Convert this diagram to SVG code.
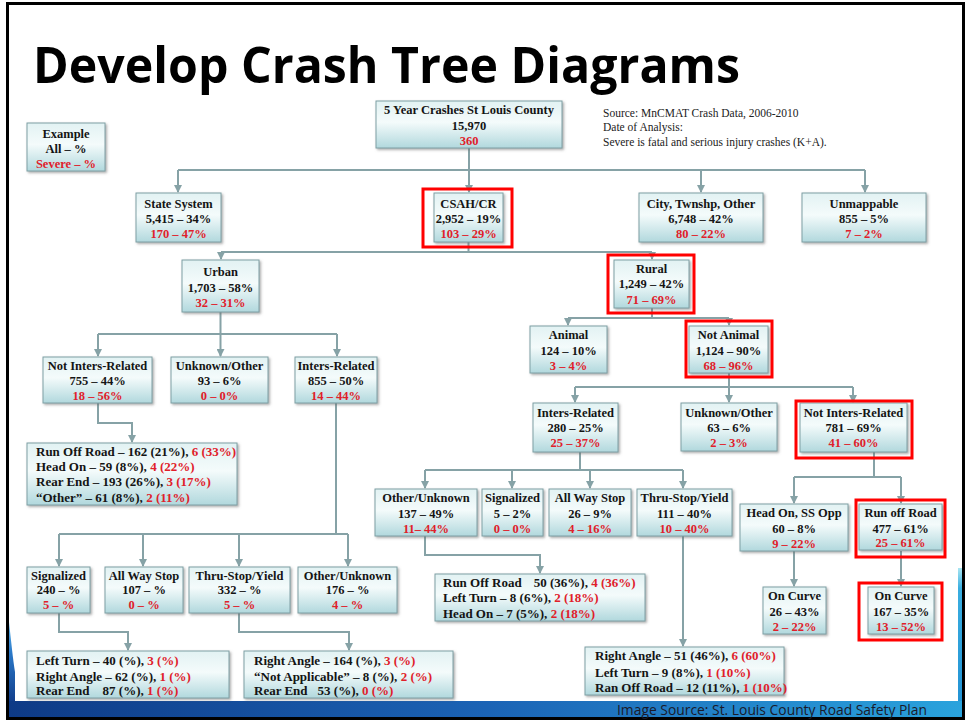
<svg xmlns="http://www.w3.org/2000/svg" width="967" height="723" viewBox="0 0 967 723">
<defs>
<linearGradient id="g" x1="0" y1="0" x2="0" y2="1">
<stop offset="0" stop-color="#e2f2f3"/>
<stop offset="0.45" stop-color="#f4fbfb"/>
<stop offset="1" stop-color="#b1d8dd"/>
</linearGradient>
<linearGradient id="band" x1="0" y1="0" x2="1" y2="0">
<stop offset="0" stop-color="#0e3a86"/>
<stop offset="0.5" stop-color="#1b63b5"/>
<stop offset="1" stop-color="#2aa3dd"/>
</linearGradient>
<linearGradient id="rs" x1="0" y1="0" x2="0" y2="1">
<stop offset="0" stop-color="#a9e6f2"/>
<stop offset="0.15" stop-color="#3aaee0"/>
<stop offset="1" stop-color="#2393d4"/>
</linearGradient>
<linearGradient id="ls" x1="0" y1="0" x2="0" y2="1">
<stop offset="0" stop-color="#5db4ea"/>
<stop offset="0.4" stop-color="#2a78c8"/>
<stop offset="1" stop-color="#123f8c"/>
</linearGradient>
<filter id="sh" x="-10%" y="-10%" width="130%" height="140%">
<feDropShadow dx="1.5" dy="1.5" stdDeviation="1" flood-color="#6b6b6b" flood-opacity="0.55"/>
</filter>
<marker id="ar" markerWidth="8" markerHeight="8" refX="7" refY="4" orient="auto" markerUnits="userSpaceOnUse">
<path d="M0,0 L8,4 L0,8 z" fill="#86a2a6"/>
</marker>
<style>
.box{fill:url(#g);stroke:#7f9fa4;stroke-width:1;filter:url(#sh);}
.t{font-family:"Liberation Serif","Times New Roman",serif;font-weight:bold;font-size:12.5px;fill:#141414;text-anchor:middle;}
.l{font-size:13px;text-anchor:start;}
.r{fill:#e0202a;}
.c{fill:none;stroke:#86a2a6;stroke-width:2;}
.a{marker-end:url(#ar);}
.hl{fill:none;stroke:#ff0000;stroke-width:3;}
.src{font-family:"Liberation Serif","Times New Roman",serif;font-size:11.5px;fill:#222;}
</style>
</defs>

<rect x="0" y="0" width="967" height="723" fill="#ffffff"/>
<g id="frame">
<path d="M9,622 C11,640 13,660 15,672 L15,701 L9,701 Z" fill="url(#ls)"/>
<rect x="958" y="568" width="6" height="134" fill="url(#rs)"/>
<rect x="8" y="701" width="956" height="17" fill="url(#band)"/>
<rect x="7.5" y="3.5" width="956" height="715" fill="none" stroke="#000" stroke-width="3"/>
<text x="617" y="715" font-family="'Open Sans','Noto Sans',sans-serif" font-size="14" fill="#1a1a2a" textLength="310" lengthAdjust="spacingAndGlyphs">Image Source: St. Louis County Road Safety Plan</text>
</g>

<text id="title" x="33" y="83" font-family="'Open Sans','Noto Sans',sans-serif" font-weight="bold" font-size="51" fill="#000" textLength="707" lengthAdjust="spacingAndGlyphs">Develop Crash Tree Diagrams</text>

<g id="source">
<text class="src" x="603" y="117">Source: MnCMAT Crash Data, 2006-2010</text>
<text class="src" x="603" y="131">Date of Analysis:</text>
<text class="src" x="603" y="146">Severe is fatal and serious injury crashes (K+A).</text>
</g>

<g id="connectors">
<path class="c" d="M178,170 H865"/>
<path class="c a" d="M469,148 V192"/>
<path class="c a" d="M178,170 V192"/>
<path class="c a" d="M701,170 V192"/>
<path class="c a" d="M865,170 V192"/>
<path class="c" d="M468.5,242 V252 M221,252 H652"/>
<path class="c a" d="M221,252 V259"/>
<path class="c a" d="M652,252 V259"/>
<path class="c" d="M220.5,312 V334 M98,334 H337"/>
<path class="c a" d="M98,334 V356"/>
<path class="c a" d="M220.5,334 V356"/>
<path class="c a" d="M337,334 V356"/>
<path class="c" d="M652,308 V318 M568,318 H729"/>
<path class="c a" d="M568,318 V325"/>
<path class="c a" d="M729,318 V325"/>
<path class="c" d="M729,373 V387 M575,387 H853"/>
<path class="c a" d="M575,387 V402"/>
<path class="c a" d="M729,387 V402"/>
<path class="c a" d="M853,387 V402"/>
<path class="c a" d="M98,403 V423 H132 V442"/>
<path class="c" d="M336,403 V534 M59,534 H348"/>
<path class="c a" d="M59,534 V566"/>
<path class="c a" d="M143,534 V566"/>
<path class="c a" d="M239,534 V566"/>
<path class="c a" d="M348,534 V566"/>
<path class="c a" d="M59,613 V632 H128 V650"/>
<path class="c a" d="M239,613 V632 H349 V650"/>
<path class="c" d="M580,452 V470 M425,470 H683"/>
<path class="c a" d="M425,470 V488"/>
<path class="c a" d="M512,470 V488"/>
<path class="c a" d="M590,470 V488"/>
<path class="c a" d="M683,470 V488"/>
<path class="c a" d="M425,536 V555 H540 V573"/>
<path class="c a" d="M683,536 V646"/>
<path class="c" d="M874,452 V477 M794,477 H901"/>
<path class="c a" d="M794,477 V503"/>
<path class="c a" d="M901,477 V503"/>
<path class="c a" d="M794,551 V586"/>
<path class="c a" d="M901,551 V586"/>
</g>

<g id="example"><rect class="box" x="27" y="123" width="78" height="48"/>
<text class="t" x="66" y="137.5">Example</text><text class="t" x="66" y="152.5">All – %</text><text class="t r" x="66" y="167.5">Severe – %</text></g>

<g id="root"><rect class="box" x="376" y="101" width="186" height="47"/>
<text class="t" x="469" y="113.5">5 Year Crashes St Louis County</text><text class="t" x="469" y="129.5">15,970</text><text class="t r" x="469" y="144.5">360</text></g>

<g id="state"><rect class="box" x="136" y="193" width="85" height="49"/>
<text class="t" x="178.5" y="207.5">State System</text><text class="t" x="178.5" y="222.5">5,415 – 34%</text><text class="t r" x="178.5" y="237.5">170 – 47%</text></g>

<g id="csah"><rect class="box" x="434" y="193" width="69" height="49"/>
<text class="t" x="468.5" y="207.5">CSAH/CR</text><text class="t" x="468.5" y="222.5">2,952 – 19%</text><text class="t r" x="468.5" y="237.5">103 – 29%</text></g>

<g id="city"><rect class="box" x="639" y="193" width="124" height="49"/>
<text class="t" x="701" y="207.5">City, Twnshp, Other</text><text class="t" x="701" y="222.5">6,748 – 42%</text><text class="t r" x="701" y="237.5">80 – 22%</text></g>

<g id="unmappable"><rect class="box" x="802" y="193" width="124" height="49"/>
<text class="t" x="864" y="207.5">Unmappable</text><text class="t" x="864" y="222.5">855 – 5%</text><text class="t r" x="864" y="237.5">7 – 2%</text></g>

<g id="urban"><rect class="box" x="182" y="260" width="77" height="52"/>
<text class="t" x="220.5" y="275.5">Urban</text><text class="t" x="220.5" y="291.5">1,703 – 58%</text><text class="t r" x="220.5" y="306.5">32 – 31%</text></g>

<g id="rural"><rect class="box" x="614" y="260" width="75" height="48"/>
<text class="t" x="651.5" y="272.5">Rural</text><text class="t" x="651.5" y="287.5">1,249 – 42%</text><text class="t r" x="651.5" y="304">71 – 69%</text></g>

<g id="urban-not-inters"><rect class="box" x="43" y="357" width="109" height="46"/>
<text class="t" x="97.5" y="369.5">Not Inters-Related</text><text class="t" x="97.5" y="384.5">755 – 44%</text><text class="t r" x="97.5" y="399.5">18 – 56%</text></g>

<g id="urban-unknown"><rect class="box" x="171" y="357" width="97" height="46"/>
<text class="t" x="219.5" y="369.5">Unknown/Other</text><text class="t" x="219.5" y="384.5">93 – 6%</text><text class="t r" x="219.5" y="399.5">0 – 0%</text></g>

<g id="urban-inters"><rect class="box" x="295" y="357" width="82" height="46"/>
<text class="t" x="336" y="369.5">Inters-Related</text><text class="t" x="336" y="384.5">855 – 50%</text><text class="t r" x="336" y="399.5">14 – 44%</text></g>

<g id="animal"><rect class="box" x="530" y="326" width="77" height="47"/>
<text class="t" x="568.5" y="338.5">Animal</text><text class="t" x="568.5" y="354.5">124 – 10%</text><text class="t r" x="568.5" y="369.5">3 – 4%</text></g>

<g id="not-animal"><rect class="box" x="689" y="326" width="79" height="47"/>
<text class="t" x="728.5" y="338.5">Not Animal</text><text class="t" x="728.5" y="354.5">1,124 – 90%</text><text class="t r" x="728.5" y="369.5">68 – 96%</text></g>

<g id="rural-inters"><rect class="box" x="533" y="403" width="85" height="49"/>
<text class="t" x="575.5" y="416.5">Inters-Related</text><text class="t" x="575.5" y="431.5">280 – 25%</text><text class="t r" x="575.5" y="446.5">25 – 37%</text></g>

<g id="rural-unknown"><rect class="box" x="681" y="403" width="96" height="48"/>
<text class="t" x="729" y="416.5">Unknown/Other</text><text class="t" x="729" y="431.5">63 – 6%</text><text class="t r" x="729" y="446.5">2 – 3%</text></g>

<g id="rural-not-inters"><rect class="box" x="800" y="403" width="107" height="49"/>
<text class="t" x="853.5" y="416.5">Not Inters-Related</text><text class="t" x="853.5" y="431.5">781 – 69%</text><text class="t r" x="853.5" y="446.5">41 – 60%</text></g>

<g id="urban-list-1"><rect class="box" x="27" y="443" width="210" height="62"/>
<text class="t l" x="36" y="455.5">Run Off Road – 162 (21%), <tspan class="r">6 (33%)</tspan></text>
<text class="t l" x="36" y="470.5">Head On – 59 (8%), <tspan class="r">4 (22%)</tspan></text>
<text class="t l" x="36" y="485.5">Rear End – 193 (26%), <tspan class="r">3 (17%)</tspan></text>
<text class="t l" x="36" y="501.5">“Other” – 61 (8%), <tspan class="r">2 (11%)</tspan></text></g>

<g id="urban-signalized"><rect class="box" x="27" y="567" width="63" height="46"/>
<text class="t" x="58.5" y="579.5">Signalized</text><text class="t" x="58.5" y="593.5">240 – %</text><text class="t r" x="58.5" y="608.5">5 – %</text></g>

<g id="urban-allway"><rect class="box" x="105" y="567" width="78" height="46"/>
<text class="t" x="144" y="579.5">All Way Stop</text><text class="t" x="144" y="593.5">107 – %</text><text class="t r" x="144" y="608.5">0 – %</text></g>

<g id="urban-thru"><rect class="box" x="189" y="567" width="101" height="46"/>
<text class="t" x="239.5" y="579.5">Thru-Stop/Yield</text><text class="t" x="239.5" y="593.5">332 – %</text><text class="t r" x="239.5" y="608.5">5 – %</text></g>

<g id="urban-other"><rect class="box" x="298" y="567" width="99" height="46"/>
<text class="t" x="347.5" y="579.5">Other/Unknown</text><text class="t" x="347.5" y="593.5">176 – %</text><text class="t r" x="347.5" y="608.5">4 – %</text></g>

<g id="urban-list-2"><rect class="box" x="27" y="651" width="202" height="47"/>
<text class="t l" x="36" y="664.5">Left Turn – 40 (%), <tspan class="r">3 (%)</tspan></text>
<text class="t l" x="36" y="680.5">Right Angle – 62 (%), <tspan class="r">1 (%)</tspan></text>
<text class="t l" x="36" y="694.5">Rear End<tspan dx="13">87 (%), </tspan><tspan class="r">1 (%)</tspan></text></g>

<g id="urban-list-3"><rect class="box" x="244" y="651" width="209" height="47"/>
<text class="t l" x="254" y="664.5">Right Angle – 164 (%), <tspan class="r">3 (%)</tspan></text>
<text class="t l" x="254" y="680.5">“Not Applicable” – 8 (%), <tspan class="r">2 (%)</tspan></text>
<text class="t l" x="254" y="694.5">Rear End<tspan dx="10">53 (%), </tspan><tspan class="r">0 (%)</tspan></text></g>

<g id="rural-other"><rect class="box" x="375" y="489" width="102" height="47"/>
<text class="t" x="426" y="501.5">Other/Unknown</text><text class="t" x="426" y="517.5">137 – 49%</text><text class="t r" x="426" y="532.5">11– 44%</text></g>

<g id="rural-signalized"><rect class="box" x="482" y="489" width="61" height="47"/>
<text class="t" x="512.5" y="501.5">Signalized</text><text class="t" x="512.5" y="517.5">5 – 2%</text><text class="t r" x="512.5" y="532.5">0 – 0%</text></g>

<g id="rural-allway"><rect class="box" x="549" y="489" width="82" height="47"/>
<text class="t" x="590" y="501.5">All Way Stop</text><text class="t" x="590" y="517.5">26 – 9%</text><text class="t r" x="590" y="532.5">4 – 16%</text></g>

<g id="rural-thru"><rect class="box" x="637" y="489" width="95" height="47"/>
<text class="t" x="684.5" y="501.5">Thru-Stop/Yield</text><text class="t" x="684.5" y="517.5">111 – 40%</text><text class="t r" x="684.5" y="532.5">10 – 40%</text></g>

<g id="rural-list-1"><rect class="box" x="435" y="574" width="210" height="47"/>
<text class="t l" x="443" y="586.5">Run Off Road<tspan dx="12">50 (36%), </tspan><tspan class="r">4 (36%)</tspan></text>
<text class="t l" x="443" y="601.5">Left Turn – 8 (6%), <tspan class="r">2 (18%)</tspan></text>
<text class="t l" x="443" y="617.5">Head On – 7 (5%), <tspan class="r">2 (18%)</tspan></text></g>

<g id="rural-list-2"><rect class="box" x="585" y="647" width="199" height="48"/>
<text class="t l" x="595" y="659.5">Right Angle – 51 (46%), <tspan class="r">6 (60%)</tspan></text>
<text class="t l" x="595" y="676.5">Left Turn – 9 (8%), <tspan class="r">1 (10%)</tspan></text>
<text class="t l" x="595" y="691.5">Ran Off Road – 12 (11%), <tspan class="r">1 (10%)</tspan></text></g>

<g id="head-on"><rect class="box" x="740" y="504" width="108" height="47"/>
<text class="t" x="794" y="516.5">Head On, SS Opp</text><text class="t" x="794" y="532.5">60 – 8%</text><text class="t r" x="794" y="547.5">9 – 22%</text></g>

<g id="run-off"><rect class="box" x="859" y="504" width="83" height="46"/>
<text class="t" x="900.5" y="516.5">Run off Road</text><text class="t" x="900.5" y="532.5">477 – 61%</text><text class="t r" x="900.5" y="547">25 – 61%</text></g>

<g id="on-curve-1"><rect class="box" x="763" y="587" width="63" height="47"/>
<text class="t" x="794.5" y="599.5">On Curve</text><text class="t" x="794.5" y="615.5">26 – 43%</text><text class="t r" x="794.5" y="630.5">2 – 22%</text></g>

<g id="on-curve-2"><rect class="box" x="868" y="587" width="66" height="47"/>
<text class="t" x="901" y="599.5">On Curve</text><text class="t" x="901" y="615.5">167 – 35%</text><text class="t r" x="901" y="630.5">13 – 52%</text></g>

<g id="highlights">
<rect class="hl" x="423" y="189" width="89" height="58"/>
<rect class="hl" x="608" y="255" width="86" height="58"/>
<rect class="hl" x="686" y="321" width="86" height="56"/>
<rect class="hl" x="796" y="401" width="116" height="57"/>
<rect class="hl" x="856" y="500" width="89" height="57"/>
<rect class="hl" x="859" y="583" width="83" height="57"/>
</g>
</svg>
